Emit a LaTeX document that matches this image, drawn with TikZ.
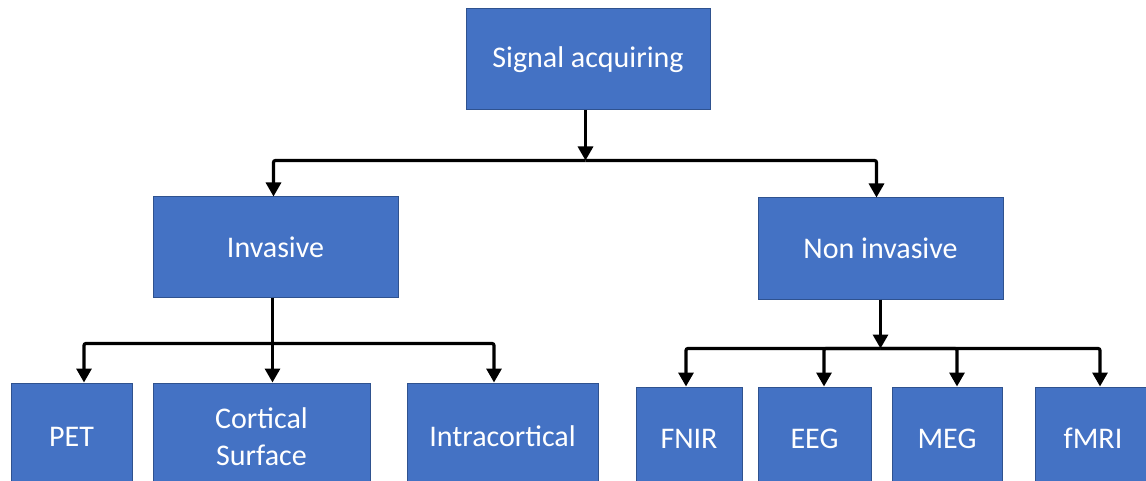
\documentclass[tikz,border=0pt]{standalone}
\usepackage{fontspec}
\setmainfont{Carlito}
\usetikzlibrary{arrows.meta,calc}
\definecolor{boxblue}{HTML}{4472C4}
\definecolor{boxedge}{HTML}{2F528F}
\tikzset{
  box/.style={draw=boxedge, line width=1pt, fill=boxblue, text=white,
    inner sep=0pt, align=center, font=\fontsize{30}{37}\selectfont},
  arr/.style={line width=3.2pt, -{Triangle[width=15pt,length=14pt]}},
}
\begin{document}
\begin{tikzpicture}[x=1pt,y=-1pt]
\useasboundingbox (0,0) rectangle (1146,481);
\clip (0,0) rectangle (1146,481);
\node[box, minimum width=244pt, minimum height=101pt] (top) at (588,59.5) {Signal acquiring};
\node[box, minimum width=245pt, minimum height=100pt] (inv) at (275.5,247) {Invasive};
\node[box, minimum width=245pt, minimum height=101pt] (non) at (880.5,248.5) {Non invasive};
\node[box, minimum width=121pt, minimum height=107pt] (pet) at (71.5,436.5) {PET};
\node[box, minimum width=217pt, minimum height=107pt] (cort) at (261.5,436.5) {Cortical\\Surface};
\node[box, minimum width=191pt, minimum height=107pt] (intra) at (502.5,436.5) {Intracortical};
\node[box, minimum width=106pt, minimum height=103pt] (fnir) at (689,438.5) {FNIR};
\node[box, minimum width=113pt, minimum height=103pt] (eeg) at (814.5,438.5) {EEG};
\node[box, minimum width=110pt, minimum height=103pt] (meg) at (947,438.5) {MEG};
\node[box, minimum width=116pt, minimum height=103pt] (fmri) at (1093,438.5) {fMRI};
% level 1
\coordinate (j1) at ($(top.south)+(-2.5,50)$);
\draw[arr] ([xshift=-2.5pt]top.south) -- (j1);
\draw[arr, rounded corners=2pt] (j1) -| ([xshift=-2pt]inv.north);
\draw[arr, rounded corners=2pt] (j1) -| ([xshift=-4pt]non.north);
% invasive
\coordinate (j2) at ($(inv.south)+(-3,46)$);
\draw[arr] ([xshift=-3pt]inv.south) -- ([xshift=-3pt]inv.south |- cort.north);
\draw[arr, rounded corners=2pt] (j2) -| ([xshift=12.5pt]pet.north);
\draw[arr, rounded corners=2pt] (j2) -| ([xshift=-8.5pt]intra.north);
% non invasive
\coordinate (j3) at ($(non.south)+(0,49)$);
\draw[arr] (non.south) -- (j3);
\draw[arr, rounded corners=2pt] (j3) -| ([xshift=-3pt]fnir.north);
\draw[arr, rounded corners=2pt] (j3) -| ([xshift=9.5pt]eeg.north);
\draw[arr, rounded corners=2pt] (j3) -| ([xshift=10pt]meg.north);
\draw[arr, rounded corners=2pt] (j3) -| ([xshift=7pt]fmri.north);
\end{tikzpicture}
\end{document}
